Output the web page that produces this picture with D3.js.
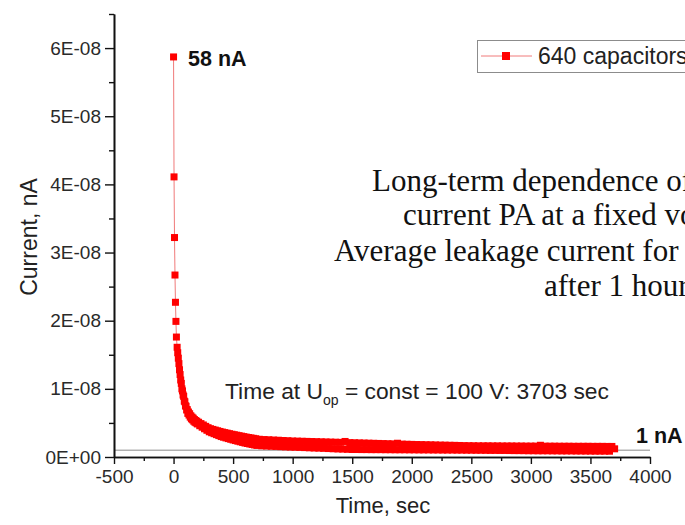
<!DOCTYPE html>
<html><head><meta charset="utf-8">
<script src="https://cdn.jsdelivr.net/npm/d3@7"></script>
<style>
body{margin:0;background:#fff;}
svg{display:block;background:#fff;}
.sans{font-family:"Liberation Sans",Arial,sans-serif;}
.serif{font-family:"Liberation Serif","Times New Roman",serif;}
</style>
</head><body><svg id="chart" width="685" height="525"></svg>
<script>
// ---- data (time in seconds, current in nA) ----
const timeSec = [
  0,4,8,12,16,20,24,
  30,35,40,45,50,55,60,65,70,75,80,85,90,95,100,105,110,115,120,125,130,135,140,145,150,155,160,165,170,175,180,185,190,195,200,
  210,220,230,240,250,260,270,280,290,300,310,320,330,340,350,360,370,380,390,400,410,420,430,440,450,460,470,480,490,500,
  510,520,530,540,550,560,570,580,590,600,610,620,630,640,650,660,670,680,690,700,
  720,740,760,780,800,820,840,860,880,900,920,940,960,980,1000,
  1020,1040,1060,1080,1100,1120,1140,1160,1180,1200,1220,1240,1260,1280,1300,1320,1340,1360,1380,1400,1420,1440,1460,1480,1500,
  1520,1540,1560,1580,1600,1620,1640,1660,1680,1700,1720,1740,1760,1780,1800,1820,1840,1860,1880,1900,1920,1940,1960,1980,2000,
  2020,2040,2060,2080,2100,2120,2140,2160,2180,2200,2220,2240,2260,2280,2300,2320,2340,2360,2380,2400,2420,2440,2460,2480,2500,
  2520,2540,2560,2580,2600,2620,2640,2660,2680,2700,2720,2740,2760,2780,2800,2820,2840,2860,2880,2900,2920,2940,2960,2980,3000,
  3020,3040,3060,3080,3100,3120,3140,3160,3180,3200,3220,3240,3260,3280,3300,3320,3340,3360,3380,3400,3420,3440,3460,3480,3500,
  3520,3540,3560,3580,3600,3620,3640,3660,3680,3703
];
const currentNA = [
  58.7,41.1,32.2,26.7,22.7,19.9,17.6,
  16.1,15.3,14.5,13.7,12.8,12.1,11.3,10.8,10.0,9.7,9.1,8.9,8.2,8.1,7.5,7.45,6.9,6.95,6.4,6.6,6.15,6.35,5.85,6.05,5.6,5.85,5.45,5.7,5.25,5.5,5.1,5.35,5.0,5.25,4.85,
  5.10,4.59,4.90,4.37,4.70,4.14,4.50,3.92,4.30,3.70,4.15,3.56,4.05,3.42,3.95,3.28,3.85,3.14,3.75,3.00,3.66,2.90,3.58,2.80,3.50,2.70,3.42,2.60,3.34,2.50,
  3.27,2.41,3.20,2.32,3.13,2.23,3.06,2.14,2.99,2.05,2.92,1.98,2.86,1.91,2.80,1.84,2.74,1.77,2.68,1.70,
  2.60,1.64,2.56,1.61,2.53,1.58,2.49,1.55,2.46,1.52,2.42,1.49,2.39,1.46,2.35,
  1.44,2.33,1.41,2.31,1.38,2.29,1.35,2.27,1.32,2.25,1.30,2.23,1.27,2.21,1.24,2.19,1.21,2.17,1.18,2.15,1.16,2.28,1.13,2.11,1.10,
  2.09,1.10,2.07,1.09,2.05,1.09,2.03,1.08,2.01,1.08,1.99,1.08,1.97,1.07,1.95,1.07,1.93,1.06,2.02,1.06,1.89,1.06,1.87,1.05,1.85,
  1.05,1.83,1.04,1.82,1.04,1.80,1.04,1.79,1.03,1.77,1.03,1.75,1.02,1.74,1.02,1.72,1.02,1.71,1.01,1.69,1.01,1.67,1.00,1.66,1.00,
  1.65,0.99,1.64,0.99,1.64,0.98,1.64,0.97,1.63,0.97,1.63,0.96,1.62,0.96,1.62,0.95,1.62,0.94,1.61,0.94,1.61,0.93,1.60,0.92,1.60,
  0.92,1.60,0.91,1.72,0.91,1.59,0.91,1.59,0.90,1.59,0.90,1.58,0.89,1.58,0.89,1.58,0.89,1.57,0.88,1.57,0.88,1.57,0.87,1.57,0.87,
  1.56,0.86,1.56,0.86,1.56,0.86,1.55,0.85,1.55,1.20
];
const seriesName = "640 capacitors";
const yTickValues = [0,10,20,30,40,50,60];
const yTickLabels = ["0E+00","1E-08","2E-08","3E-08","4E-08","5E-08","6E-08"];
const yMinorValues = [5,15,25,35,45,55,65];
const xTickValues = [-500,0,500,1000,1500,2000,2500,3000,3500,4000];
const xTickLabels = ["-500","0","500","1000","1500","2000","2500","3000","3500","4000"];
const xMinorValues = [-250,250,750,1250,1750,2250,2750,3250,3750];
const referenceNA = 1;
const peakLabel = "58 nA";
const endLabel = "1 nA";
const noteLines = [
  "Long-term dependence of the leakage",
  "current PA at a fixed voltage.",
  "Average leakage current for 640 capacitors",
  "after 1 hour is about 1 nA"
];

// ---- drawing ----
const svg = d3.select("#chart");
const x = d3.scaleLinear().domain([-500,4000]).range([114,650]);
const y = d3.scaleLinear().domain([0,65]).range([457,14]);

// reference line at 1 nA
svg.append("line")
  .attr("x1", x(-500)).attr("x2", x(4000))
  .attr("y1", y(referenceNA)).attr("y2", y(referenceNA))
  .attr("stroke", "#8a8a8a").attr("stroke-width", 1);

// axes
function styleAxis(g){
  g.select(".domain").attr("stroke","#111").attr("stroke-width",1.6);
  g.selectAll(".tick line").attr("stroke","#111").attr("stroke-width",1.4);
  g.selectAll(".tick text").attr("class","sans").attr("font-size",19).attr("fill","#2a2a2a");
}
const xAxis = svg.append("g").attr("transform","translate(0,457)")
  .call(d3.axisBottom(x).tickValues(xTickValues).tickFormat((d,i)=>xTickLabels[i]).tickSize(7).tickSizeOuter(0).tickPadding(6));
styleAxis(xAxis);
const xMinor = svg.append("g").attr("transform","translate(0,457)")
  .call(d3.axisBottom(x).tickValues(xMinorValues).tickFormat("").tickSize(4).tickSizeOuter(0));
styleAxis(xMinor);
const yAxis = svg.append("g").attr("transform","translate(114,0)")
  .call(d3.axisLeft(y).tickValues(yTickValues).tickFormat((d,i)=>yTickLabels[i]).tickSize(9).tickSizeOuter(0).tickPadding(4));
styleAxis(yAxis);
const yMinor = svg.append("g").attr("transform","translate(114,0)")
  .call(d3.axisLeft(y).tickValues(yMinorValues).tickFormat("").tickSize(5).tickSizeOuter(0));
styleAxis(yMinor);

// axis titles
svg.append("text").attr("class","sans").attr("x",383).attr("y",513)
  .attr("text-anchor","middle").attr("font-size",22).attr("fill","#222").text("Time, sec");
svg.append("text").attr("class","sans").attr("transform","translate(37,237) rotate(-90)")
  .attr("text-anchor","middle").attr("font-size",23).attr("fill","#222").text("Current, nA");

// series
const data = timeSec.map((t,i)=>({t, v: currentNA[i]}));
svg.append("path").datum(data)
  .attr("fill","none").attr("stroke","#f07a7a").attr("stroke-width",1)
  .attr("d", d3.line().x(d=>x(d.t)).y(d=>y(d.v)));
const ms = 7;
svg.append("g").selectAll("rect").data(data).join("rect")
  .attr("x", d=>x(d.t)-ms/2).attr("y", d=>y(d.v)-ms/2)
  .attr("width", ms).attr("height", ms).attr("fill","#ff0000");

// annotations
svg.append("text").attr("class","sans").attr("x",188).attr("y",66)
  .attr("font-size",21.5).attr("font-weight","bold").attr("fill","#111").text(peakLabel);
svg.append("text").attr("class","sans").attr("x",636).attr("y",443)
  .attr("font-size",21.5).attr("font-weight","bold").attr("fill","#111").text(endLabel);

const tnote = svg.append("text").attr("class","sans").attr("x",225).attr("y",399)
  .attr("font-size",22.8).attr("fill","#222");
tnote.append("tspan").text("Time at U");
tnote.append("tspan").attr("font-size",14).attr("dy",6).text("op");
tnote.append("tspan").attr("dy",-6).text(" = const = 100 V: 3703 sec");

// legend
const lg = svg.append("g");
lg.append("rect").attr("x",477.5).attr("y",40.5).attr("width",240).attr("height",32)
  .attr("fill","#fff").attr("stroke","#8c8c8c").attr("stroke-width",1);
lg.append("line").attr("x1",481).attr("x2",532).attr("y1",56).attr("y2",56)
  .attr("stroke","#f07a7a").attr("stroke-width",1);
lg.append("rect").attr("x",506-4).attr("y",56-4).attr("width",8).attr("height",8).attr("fill","#ff0000");
lg.append("text").attr("class","sans").attr("x",538).attr("y",64)
  .attr("font-size",23).attr("fill","#222").text(seriesName);

// description text
const noteX = [372,403,334,544];
const noteY = [191,225,261,296];
svg.append("g").selectAll("text").data(noteLines).join("text")
  .attr("class","serif").attr("x",(d,i)=>noteX[i]).attr("y",(d,i)=>noteY[i])
  .attr("font-size",31).attr("fill","#111").text(d=>d);
</script>
</body></html>
